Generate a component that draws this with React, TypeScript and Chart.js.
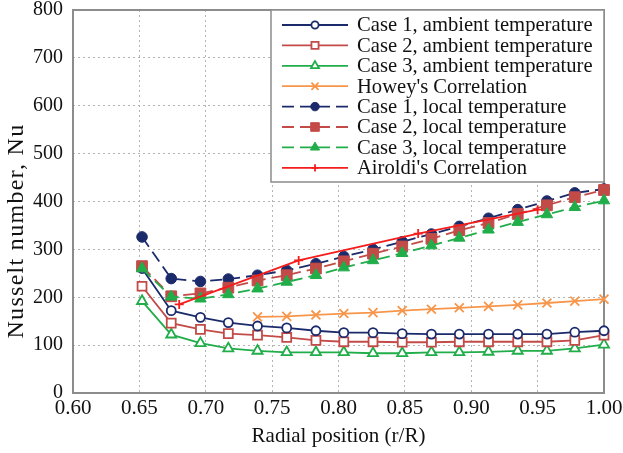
import React, { useEffect, useRef } from 'react';
import { Chart, registerables } from 'chart.js';
import { drawPoint } from 'chart.js/helpers';

Chart.register(...registerables);

const radialPositions = [0.652, 0.674, 0.696, 0.717, 0.739, 0.761, 0.783, 0.804, 0.826, 0.848, 0.870, 0.891, 0.913, 0.935, 0.957, 0.978, 1.000];
const case1Ambient = [260, 172, 158, 147, 140, 136, 130, 126, 126, 124, 123, 123, 123, 123, 123, 127, 130];
const case2Ambient = [223, 146, 133, 124, 121, 116, 110, 107, 107, 106, 106, 107, 107, 107, 107, 110, 121];
const case3Ambient = [192, 122, 104, 93, 88, 85, 85, 85, 83, 83, 85, 85, 86, 88, 88, 93, 101];
const howeyCorrelation = [null, null, null, null, 159, 160, 163, 166, 168, 172, 175, 178, 181, 184, 188, 192, 196];
const case1Local = [326, 239, 233, 238, 246, 256, 270, 285, 300, 316, 332, 348, 365, 383, 401, 418, 426];
const case2Local = [265, 202, 208, 220, 235, 246, 260, 275, 291, 306, 322, 340, 355, 374, 392, 409, 424];
const case3Local = [260, 201, 197, 206, 218, 232, 246, 262, 277, 292, 308, 324, 341, 357, 373, 388, 402];
const airoldiPositions = [0.68, 0.77, 0.86, 0.95];
const airoldiCorrelation = [185, 277, 333, 383];

const seriesLabels = [
  'Case 1, ambient temperature',
  'Case 2, ambient temperature',
  'Case 3, ambient temperature',
  "Howey's Correlation",
  'Case 1, local temperature',
  'Case 2, local temperature',
  'Case 3, local temperature',
  "Airoldi's Correlation",
];
const xAxisTitle = 'Radial position (r/R)';
const yAxisTitle = 'Nusselt number, Nu';

const NAVY = '#1b2a6b';
const RED2 = '#c24b48';
const GREEN = '#20ad4a';
const ORANGE = '#f7964a';
const RED = '#f51c1c';
const SERIF = "'Liberation Serif', 'Times New Roman', serif";

const toPoints = (xs: number[], ys: (number | null)[]) =>
  xs.map((x, i) => ({ x, y: ys[i] })).filter((p) => p.y !== null);

const framePlugin = {
  id: 'frame',
  beforeDatasetsDraw(chart: any) {
    const { ctx, chartArea: a } = chart;
    ctx.save();
    ctx.strokeStyle = '#8c8c8c';
    ctx.lineWidth = 2;
    ctx.strokeRect(a.left, a.top, a.right - a.left, a.bottom - a.top);
    ctx.restore();
  },
};

const legendPlugin = {
  id: 'boxLegend',
  afterDatasetsDraw(chart: any) {
    const { ctx, chartArea: a } = chart;
    const w = 333;
    const h = 172;
    const bx = a.right - w;
    const by = a.top;
    ctx.save();
    ctx.fillStyle = '#ffffff';
    ctx.fillRect(bx, by, w, h);
    ctx.strokeStyle = '#8c8c8c';
    ctx.lineWidth = 1.5;
    ctx.strokeRect(bx, by, w, h);
    chart.data.datasets.forEach((ds: any, i: number) => {
      const y = by + 15 + i * 20.4;
      const x0 = bx + 11;
      const x1 = bx + 77;
      ctx.save();
      ctx.strokeStyle = ds.borderColor;
      ctx.lineWidth = ds.borderWidth;
      ctx.setLineDash(ds.borderDash || []);
      ctx.beginPath();
      ctx.moveTo(x0, y);
      ctx.lineTo(x1, y);
      ctx.stroke();
      ctx.setLineDash([]);
      ctx.fillStyle = ds.pointBackgroundColor;
      ctx.strokeStyle = ds.pointBorderColor;
      ctx.lineWidth = ds.pointBorderWidth;
      drawPoint(ctx, { pointStyle: ds.pointStyle, radius: ds.pointRadius * 0.8, rotation: 0, borderWidth: ds.pointBorderWidth }, (x0 + x1) / 2, y);
      ctx.restore();
      ctx.fillStyle = '#111';
      ctx.font = `20.6px ${SERIF}`;
      ctx.textAlign = 'left';
      ctx.textBaseline = 'middle';
      ctx.fillText(ds.label, bx + 86, y + 1);
    });
    ctx.restore();
  },
};

const yTitlePlugin = {
  id: 'yTitle',
  afterDraw(chart: any) {
    const { ctx } = chart;
    ctx.save();
    ctx.translate(17, 231);
    ctx.rotate(-Math.PI / 2);
    ctx.fillStyle = '#111';
    ctx.font = `24px ${SERIF}`;
    (ctx as any).letterSpacing = '1.3px';
    ctx.textAlign = 'center';
    ctx.textBaseline = 'middle';
    ctx.fillText(yAxisTitle, 0, 0);
    ctx.restore();
  },
};

export default function App() {
  const ref = useRef<HTMLCanvasElement | null>(null);

  useEffect(() => {
    document.body.style.margin = '0';
    if (!ref.current) return;
    const mk = (
      label: string,
      data: any[],
      color: string,
      style: string,
      radius: number,
      filled: boolean,
      dashed: boolean,
      order: number
    ) => ({
      label,
      data,
      borderColor: color,
      backgroundColor: color,
      borderWidth: 1.8,
      borderDash: dashed ? [12, 6] : [],
      pointStyle: style,
      pointRadius: radius,
      pointBackgroundColor: filled ? color : '#ffffff',
      pointBorderColor: color,
      pointBorderWidth: filled ? 1 : 1.8,
      fill: false,
      tension: 0,
      clip: 12,
      order,
    });

    const chart = new Chart(ref.current, {
      type: 'line',
      data: {
        datasets: [
          mk(seriesLabels[0], toPoints(radialPositions, case1Ambient), NAVY, 'circle', 4.5, false, false, 4),
          mk(seriesLabels[1], toPoints(radialPositions, case2Ambient), RED2, 'rect', 6.3, false, false, 5),
          mk(seriesLabels[2], toPoints(radialPositions, case3Ambient), GREEN, 'triangle', 5.8, false, false, 6),
          mk(seriesLabels[3], toPoints(radialPositions, howeyCorrelation), ORANGE, 'crossRot', 6.3, false, false, 7),
          mk(seriesLabels[4], toPoints(radialPositions, case1Local), NAVY, 'circle', 5.3, true, true, 3),
          mk(seriesLabels[5], toPoints(radialPositions, case2Local), RED2, 'rect', 7.6, true, true, 2),
          mk(seriesLabels[6], toPoints(radialPositions, case3Local), GREEN, 'triangle', 6.6, true, true, 1),
          mk(seriesLabels[7], toPoints(airoldiPositions, airoldiCorrelation), RED, 'cross', 4.5, false, false, 0),
        ] as any,
      },
      options: {
        animation: false,
        responsive: false,
        events: [],
        layout: { padding: { top: 10, right: 19, bottom: 0, left: 0 } },
        plugins: { legend: { display: false }, tooltip: { enabled: false } },
        scales: {
          x: {
            type: 'linear',
            min: 0.6,
            max: 1.0,
            afterFit: (s: any) => {
              s.height = 60;
              s.paddingLeft = 0;
              s.paddingRight = 0;
            },
            ticks: {
              stepSize: 0.05,
              padding: 3,
              color: '#111',
              font: { family: SERIF, size: 21 },
              callback: (v: any) => Number(v).toFixed(2),
            },
            grid: { color: '#b4b4b4', lineWidth: 1, drawTicks: false, borderDash: [2, 3] } as any,
            border: { display: false, dash: [2, 3] },
            title: {
              display: true,
              text: xAxisTitle,
              color: '#111',
              font: { family: SERIF, size: 21 },
              padding: { top: 0, bottom: 4 },
            },
          },
          y: {
            min: 0,
            max: 800,
            afterFit: (s: any) => {
              s.width = 73;
              s.paddingTop = 0;
              s.paddingBottom = 0;
            },
            ticks: {
              stepSize: 100,
              padding: 10,
              color: '#111',
              font: { family: SERIF, size: 20 },
            },
            grid: { color: '#b4b4b4', lineWidth: 1, drawTicks: false, borderDash: [2, 3] } as any,
            border: { display: false, dash: [2, 3] },
          },
        },
      },
      plugins: [framePlugin, legendPlugin, yTitlePlugin],
    });
    return () => chart.destroy();
  }, []);

  return (
    <div style={{ width: 623, height: 453 }}>
      <canvas ref={ref} width={623} height={453} style={{ width: 623, height: 453, display: 'block' }} />
    </div>
  );
}
